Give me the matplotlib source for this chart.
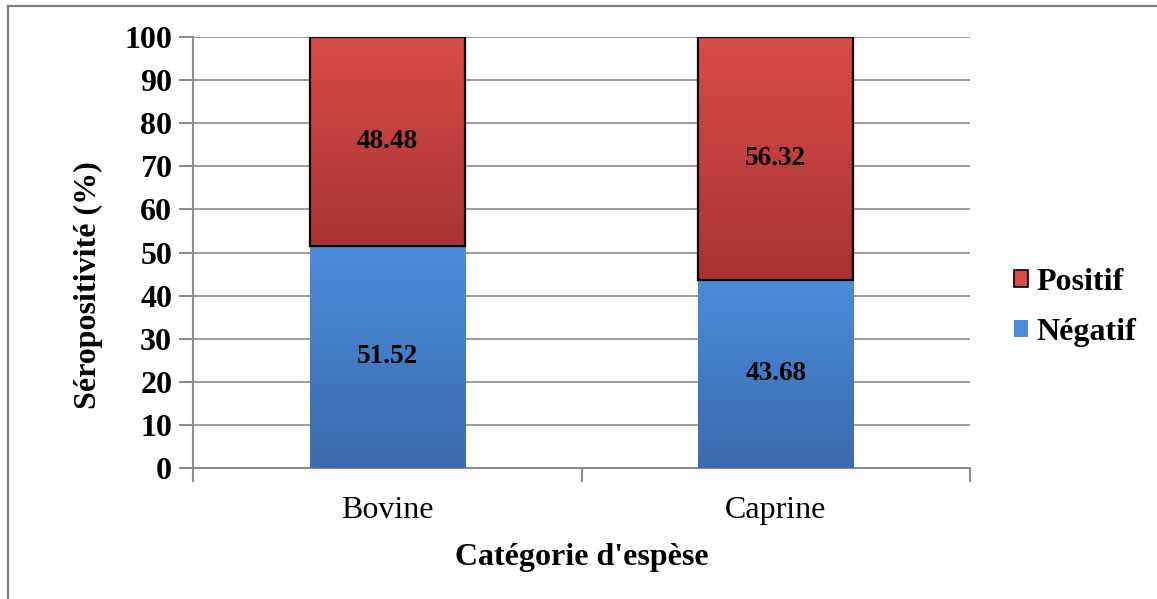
import matplotlib.pyplot as plt
import numpy as np
from matplotlib.colors import LinearSegmentedColormap
from matplotlib.lines import Line2D
from matplotlib.patches import Patch

# Données : séropositivité par espèce (%)
categories = ["Bovine", "Caprine"]
negatif = [51.52, 43.68]
positif = [48.48, 56.32]

plt.rcParams["font.family"] = ["Liberation Serif", "DejaVu Serif"]

fig = plt.figure(figsize=(11.57, 5.99), dpi=100)
ax = fig.add_axes([0.1668, 0.2187, 0.6716, 0.7195])

x = np.arange(len(categories))
bar_w = 0.40

RED_TOP, RED_BOT = "#d94c48", "#a83331"
BLUE_TOP, BLUE_BOT = "#4c8cdb", "#3a6aaf"


def shade_bars(bars, top, bottom):
    # remplissage en dégradé vertical, découpé sur la forme de chaque barre
    cmap = LinearSegmentedColormap.from_list("g", [bottom, top])
    grad = np.linspace(0, 1, 256).reshape(-1, 1)
    for b in bars:
        x0, y0 = b.get_x(), b.get_y()
        w, h = b.get_width(), b.get_height()
        im = ax.imshow(grad, cmap=cmap, origin="lower", aspect="auto",
                       extent=(x0, x0 + w, y0, y0 + h), zorder=b.get_zorder() - 0.1)
        im.set_clip_path(b)
        b.set_facecolor("none")


neg_bars = ax.bar(x, negatif, bar_w, color=BLUE_TOP, edgecolor="none", zorder=3)
pos_bars = ax.bar(x, positif, bar_w, bottom=negatif, color=RED_TOP,
                  edgecolor="black", linewidth=1.6, zorder=3)
shade_bars(neg_bars, BLUE_TOP, BLUE_BOT)
shade_bars(pos_bars, RED_TOP, RED_BOT)

# étiquettes de valeurs au centre des segments
for i in range(len(categories)):
    ax.text(x[i], negatif[i] / 2, f"{negatif[i]:.2f}", ha="center", va="center",
            fontsize=19.5, fontweight="bold", zorder=5)
    ax.text(x[i], negatif[i] + positif[i] / 2, f"{positif[i]:.2f}", ha="center",
            va="center", fontsize=19.5, fontweight="bold", zorder=5)

ax.set_xlim(-0.5, len(categories) - 0.5)
ax.set_ylim(0, 100)
ax.set_yticks(range(0, 101, 10))
ax.yaxis.grid(True, color="#8c8c8c", linewidth=1.2)
ax.set_axisbelow(True)

for side in ("top", "right"):
    ax.spines[side].set_visible(False)
for side in ("left", "bottom"):
    ax.spines[side].set_color("#8c8c8c")
    ax.spines[side].set_linewidth(1.5)

# graduations majeures : libellés ; mineures : séparateurs de catégories
ax.set_xticks(x)
ax.set_xticklabels(categories, fontsize=23)
ax.tick_params(axis="x", which="major", length=0, pad=20)
ax.set_xticks(np.arange(-0.5, len(categories), 1.0), minor=True)
ax.tick_params(axis="x", which="minor", length=10, width=1.5, color="#8c8c8c")
ax.tick_params(axis="y", length=10, width=1.5, color="#8c8c8c", labelsize=23, pad=5)
for lbl in ax.get_yticklabels():
    lbl.set_fontweight("bold")

ax.set_ylabel("Séropositivité (%)", fontsize=23, fontweight="bold")
ax.yaxis.set_label_coords(-0.116, 0.425)
ax.set_xlabel("Catégorie d'espèse", fontsize=23, fontweight="bold", labelpad=13)

handles = [
    Patch(facecolor=RED_TOP, edgecolor="black", linewidth=1.2, label="Positif"),
    Patch(facecolor=BLUE_TOP, edgecolor="none", label="Négatif"),
]
ax.legend(handles=handles, loc="center left", bbox_to_anchor=(1.04, 0.372),
          frameon=False, prop={"size": 23, "weight": "bold"},
          handlelength=0.45, handleheight=0.45, handletextpad=0.25, labelspacing=0.65,
          borderaxespad=0.0)

# cadre extérieur (gauche et haut)
fig.add_artist(Line2D([8 / 1157, 8 / 1157], [0, 1 - 6 / 599], color="#808080", lw=1.6))
fig.add_artist(Line2D([8 / 1157, 1], [1 - 6 / 599, 1 - 6 / 599], color="#808080", lw=1.6))

fig.savefig("out.png", dpi=100)
